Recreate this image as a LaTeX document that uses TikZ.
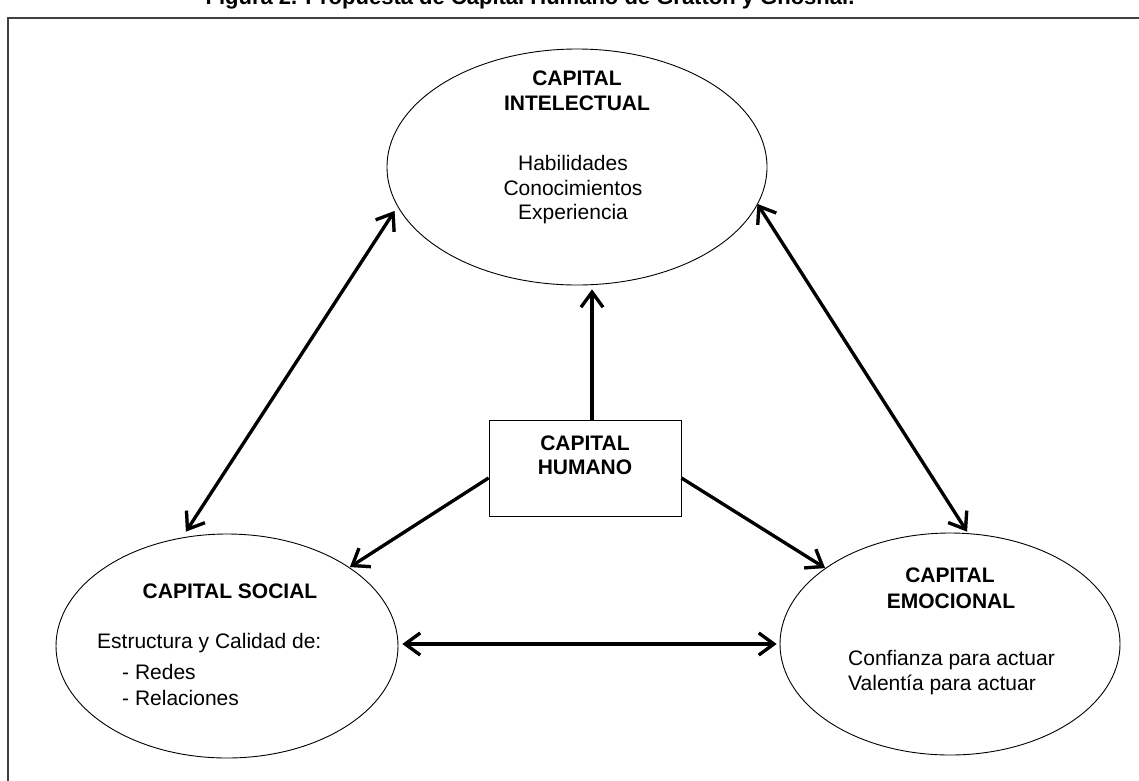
\documentclass[tikz,border=0pt]{standalone}
\usepackage{fontspec}
\setmainfont{Liberation Sans}
\usetikzlibrary{shapes.geometric,arrows.meta,calc}

% a connector: grey drop shadow first, then the black line on top
\newcommand\shadowlink[3]{%
  \draw[linkshade,#3] (#1) -- (#2);
  \draw[linkmain,#3] (#1) -- (#2);}

\begin{document}
\begin{tikzpicture}[x=1pt,y=-1pt,
  txt/.style={inner sep=0pt, font=\fontsize{21}{25}\selectfont},
  hd/.style={inner sep=0pt, font=\fontsize{21}{25}\selectfont\bfseries},
  oval/.style={ellipse, draw=black, line width=0.9pt, inner sep=0pt},
  panel/.style={rectangle, draw=black, line width=1pt, inner sep=0pt},
  barb/.tip={Straight Barb[length=15pt,width=22pt]},
  linkmain/.style={draw=black, line width=3.2pt},
  linkshade/.style={draw=black!50, line width=3.2pt, shift={(2.4,3)}},
  both/.style={barb-barb},
  fwd/.style={-barb}]

\useasboundingbox (0,0) rectangle (1139,780);
\clip (0,0) rectangle (1139,780);

% caption above the frame
\node[inner sep=0pt, font=\fontsize{22}{26}\selectfont\bfseries, anchor=base] (title) at (530,4)
  {Figura 2. Propuesta de Capital Humano de Gratton y Ghoshal.};

% outer frame
\draw[black!75, line width=1.4pt] (8,18) rectangle (1170,810);

% the four boxes
\node[oval, minimum width=380pt, minimum height=236pt] (I) at (577,167) {};
\node[oval, minimum width=342pt, minimum height=224pt] (S) at (227,646) {};
\node[oval, minimum width=340pt, minimum height=222pt] (E) at (950,644) {};
\node[panel, minimum width=192pt, minimum height=96pt] (H) at (585,468) {};

% texts
\node[hd, anchor=base] (i1) at (577,85)  {CAPITAL};
\node[hd, anchor=base] (i2) at (577,110) {INTELECTUAL};
\node[txt, anchor=base] (i3) at (573,170) {Habilidades};
\node[txt, anchor=base] (i4) at (573,195) {Conocimientos};
\node[txt, anchor=base] (i5) at (573,219) {Experiencia};

\node[hd, anchor=base] (h1) at (585,450) {CAPITAL};
\node[hd, anchor=base] (h2) at (585,474) {HUMANO};

\node[hd, anchor=base] (s1) at (230,598) {CAPITAL SOCIAL};
\node[txt, anchor=base west] (s2) at (97,648)  {Estructura y Calidad de:};
\node[txt, anchor=base west] (s3) at (122,679) {- Redes};
\node[txt, anchor=base west] (s4) at (122,705) {- Relaciones};

\node[hd, anchor=base] (e1) at (950,582) {CAPITAL};
\node[hd, anchor=base] (e2) at (951,608) {EMOCIONAL};
\node[txt, anchor=base west] (e3) at (848,665) {Confianza para actuar};
\node[txt, anchor=base west] (e4) at (848,690) {Valentía para actuar};

% connector end points
\coordinate (isA) at ($(S.north)+(-41,-2)$);
\coordinate (isB) at ($(I.west)+(8,44)$);
\coordinate (ieA) at ($(I.east)+(-10,37)$);
\coordinate (ieB) at ($(E.north)+(17,-1)$);
\coordinate (seA) at ($(S.east)+(4,-2)$);
\coordinate (seB) at ($(E.west)+(-3,0)$);
\coordinate (hI)  at ($(H.north)+(7,0)$);
\coordinate (tI)  at ($(I.south)+(15,4)$);
\coordinate (hS)  at ($(H.west)+(0,10)$);
\coordinate (tS)  at (350,567);
\coordinate (hE)  at ($(H.east)+(0,10)$);
\coordinate (tE)  at (825,568);

% connectors
\shadowlink{isA}{isB}{both}
\shadowlink{ieA}{ieB}{both}
\shadowlink{seA}{seB}{both}
\shadowlink{hI}{tI}{fwd}
\shadowlink{hS}{tS}{fwd}
\shadowlink{hE}{tE}{fwd}

\end{tikzpicture}
\end{document}
